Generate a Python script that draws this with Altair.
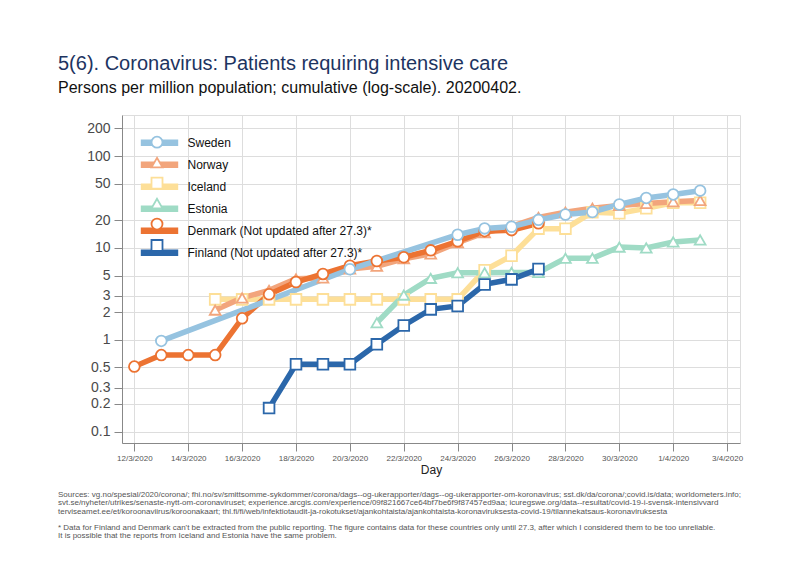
import altair as alt
import pandas as pd

# ---------------- data ----------------
dates = ["2020-03-12", "2020-03-13", "2020-03-14", "2020-03-15", "2020-03-16", "2020-03-17",
         "2020-03-18", "2020-03-19", "2020-03-20", "2020-03-21", "2020-03-22", "2020-03-23",
         "2020-03-24", "2020-03-25", "2020-03-26", "2020-03-27", "2020-03-28", "2020-03-29",
         "2020-03-30", "2020-03-31", "2020-04-01", "2020-04-02"]

countries = ["Sweden", "Norway", "Iceland", "Estonia",
             "Denmark (Not updated after 27.3)*", "Finland (Not updated after 27.3)*"]

sweden = [None, 0.97, None, None, None, None, None, None, 5.85, None, None, None,
          13.9, 16.3, 17.0, 20.2, 23.1, 24.6, 29.7, 35.0, 38.2, 42.0]
norway = [None, None, None, 2.1, 2.85, 3.45, 4.6, 4.7, 5.9, 6.3, 7.6, 8.6,
          11.4, 14.6, 17.2, 21.5, 24.5, 27.0, 29.0, 30.5, 31.8, 32.8]
iceland = [None, None, None, 2.75, 2.75, 2.75, 2.75, 2.75, 2.75, 2.75, 2.75, 2.75,
           2.75, 5.7, 8.2, 16.2, 16.2, 24.5, 23.8, 27.0, 31.0, 31.0]
estonia = [None, None, None, None, None, None, None, None, None, 1.53, 3.06, 4.66,
           5.36, 5.36, 5.4, 5.4, 7.7, 7.7, 10.2, 10.0, 11.6, 12.2]
denmark = [0.51, 0.68, 0.68, 0.68, 1.71, 3.12, 4.25, 5.2, 6.4, 7.2, 7.9, 9.4,
           11.8, 15.2, 15.6, 18.5, None, None, None, None, None, None]
finland = [None, None, None, None, None, 0.18, 0.54, 0.54, 0.54, 0.89, 1.43, 2.14,
           2.33, 4.0, 4.54, 5.88, None, None, None, None, None, None]
series = [sweden, norway, iceland, estonia, denmark, finland]

colors = ["#96c3e0", "#f2a57c", "#fddf98", "#9fdbc5", "#ec7332", "#2b67aa"]
shapes = ["circle", "triangle-up", "square", "triangle-up", "circle", "square"]
draw_order = [2, 3, 1, 4, 5, 0]

x_ticks = ["2020-03-12", "2020-03-14", "2020-03-16", "2020-03-18", "2020-03-20", "2020-03-22",
           "2020-03-24", "2020-03-26", "2020-03-28", "2020-03-30", "2020-04-01", "2020-04-03"]
y_ticks = [0.1, 0.2, 0.3, 0.5, 1, 2, 3, 5, 10, 20, 50, 100, 200]

title_text = "5(6). Coronavirus: Patients requiring intensive care"
subtitle_text = "Persons per million population; cumulative (log-scale). 20200402."
sources = [
    "Sources: vg.no/spesial/2020/corona/; fhi.no/sv/smittsomme-sykdommer/corona/dags--og-ukerapporter/dags--og-ukerapporter-om-koronavirus; sst.dk/da/corona/;covid.is/data; worldometers.info;",
    "svt.se/nyheter/utrikes/senaste-nytt-om-coronaviruset; experience.arcgis.com/experience/09f821667ce64bf7be6f9f87457ed9aa; icuregswe.org/data--resultat/covid-19-i-svensk-intensivvard",
    "terviseamet.ee/et/koroonaviirus/koroonakaart; thl.fi/fi/web/infektiotaudit-ja-rokotukset/ajankohtaista/ajankohtaista-koronaviruksesta-covid-19/tilannekatsaus-koronaviruksesta",
]
notes = [
    "* Data for Finland and Denmark can't be extracted from the public reporting. The figure contains data for these countries only until 27.3, after which I considered them to be too unreliable.",
    "It is possible that the reports from Iceland and Estonia have the same problem.",
]

# ---------------- build ----------------
rows = []
for i in draw_order:
    c, vals = countries[i], series[i]
    for d, v in zip(dates, vals):
        if v is not None:
            rows.append({"date": d, "value": v, "country": c})
df = pd.DataFrame(rows)


def dt(s, hours=0, minutes=0):
    y, m, d = map(int, s.split("-"))
    return alt.DateTime(year=y, month=m, date=d, hours=hours, minutes=minutes, utc=True)


FONT = "Liberation Sans"

x_enc = alt.X(
    "date:T",
    title="Day",
    scale=alt.Scale(type="utc", domain=[dt("2020-03-11", 13), dt("2020-04-03", 11, 30)]),
    axis=alt.Axis(values=[dt(t) for t in x_ticks],
                  labelExpr="utcFormat(datum.value, '%-d/%-m/%Y')",
                  labelFontSize=8, labelColor="#555555", labelPadding=3, tickSize=8,
                  titleFontSize=12, titleFontWeight="normal", titleColor="#222222",
                  titlePadding=2, labelFlush=False),
)
y_enc = alt.Y(
    "value:Q",
    title=None,
    scale=alt.Scale(type="log", domain=[0.075, 280], nice=False),
    axis=alt.Axis(values=y_ticks, format="~g", labelFontSize=14, labelColor="#4a4a4a",
                  tickSize=8, labelPadding=4),
)

SYM = 121
# line-style legend: long horizontal stroke symbols with the labels
legend_lines = alt.Legend(orient="none", legendX=28.5, legendY=18.7, title=None, padding=0,
                          symbolType="M-3.4,0L3.4,0", symbolStrokeWidth=6.5, symbolSize=SYM,
                          labelFontSize=12, labelFont=FONT, labelColor="#111111",
                          labelOffset=19, labelLimit=300, rowPadding=-6.74)
# marker legend drawn on top of the stroke symbols (empty labels)
legend_marks = alt.Legend(orient="none", legendX=28.5, legendY=20.7, title=None, padding=0,
                          symbolSize=SYM, symbolStrokeWidth=1.8, symbolFillColor="white",
                          labelFontSize=12, labelFont=FONT, labelExpr="''",
                          labelOffset=19, labelLimit=300, rowPadding=2.46)

base = alt.Chart(df)
lines = base.mark_line(strokeWidth=5.5).encode(
    x=x_enc, y=y_enc,
    color=alt.Color("country:N", sort=countries, scale=alt.Scale(range=colors),
                    legend=legend_lines),
)
points = base.mark_point(filled=True, fill="white", size=115, strokeWidth=1.8, opacity=1).encode(
    x=x_enc, y=y_enc,
    shape=alt.Shape("country:N", scale=alt.Scale(domain=countries, range=shapes),
                    legend=legend_marks),
    stroke=alt.Stroke("country:N", scale=alt.Scale(domain=countries, range=colors),
                      legend=legend_marks),
)

src_text = alt.Chart(alt.Data(values=[{}])).mark_text(
    text=sources, align="left", baseline="alphabetic", fontSize=8, font=FONT,
    color="#555555", lineHeight=8.3,
).encode(x=alt.value(-64), y=alt.value(382))
note_text = alt.Chart(alt.Data(values=[{}])).mark_text(
    text=notes, align="left", baseline="alphabetic", fontSize=8, font=FONT,
    color="#555555", lineHeight=8.3,
).encode(x=alt.value(-64), y=alt.value(415))

chart = alt.layer(lines, points, src_text, note_text).properties(
    width=618, height=328,
    autosize=alt.AutoSizeParams(type="none"),
    padding={"left": 114, "top": 107, "right": 47, "bottom": 127},
    title=alt.TitleParams(text=title_text, subtitle=subtitle_text, anchor="start", frame="group",
                          dx=-64, offset=19, font=FONT, fontSize=20, fontWeight="normal",
                          color="#1d3461", subtitleFont=FONT, subtitleFontSize=16,
                          subtitleColor="#111111", subtitlePadding=6),
).configure_view(stroke=None).configure_axis(
    gridColor="#ebebeb", gridWidth=1.5, domainColor="#9a9a9a", tickColor="#9a9a9a",
    labelFont=FONT, titleFont=FONT,
).configure(background="white")

chart.save("out.html", embed_options={"renderer": "svg", "actions": False})
